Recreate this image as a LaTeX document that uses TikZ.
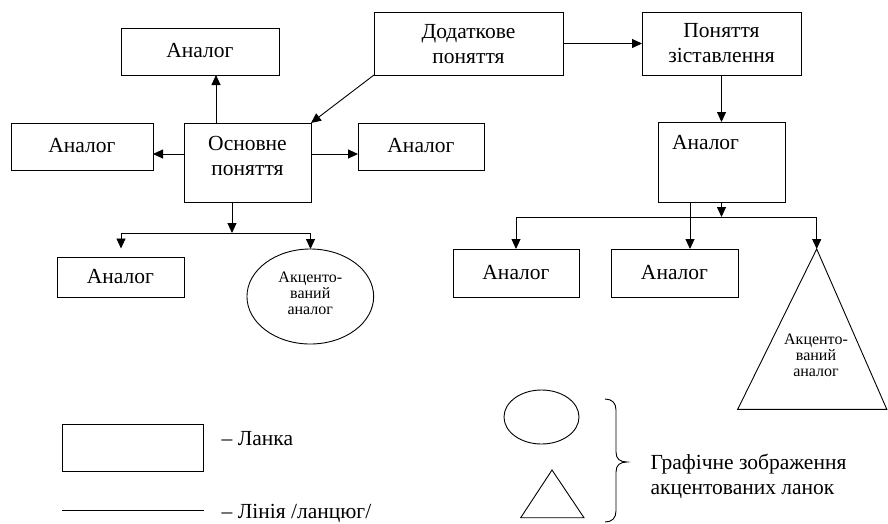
\documentclass[tikz,border=0pt]{standalone}
\usepackage{fontspec}
\setmainfont{Liberation Serif}
\usetikzlibrary{arrows.meta,shapes.geometric,calc}
\begin{document}
\begin{tikzpicture}[x=1pt,y=-1pt,
  every node/.style={inner sep=0pt, outer sep=0pt},
  box/.style={draw, line width=0.9pt, rectangle},
  ell/.style={draw, line width=0.9pt, ellipse},
  txt/.style={font=\fontsize{21.5}{25}\selectfont, align=center},
  small/.style={font=\fontsize{16}{16}\selectfont, align=center},
  arr/.style={line width=0.9pt, -{Triangle[length=10pt,width=9pt]}},
  ln/.style={line width=0.9pt}]
\useasboundingbox (0,0) rectangle (888,523);

% boxes
\node[box, minimum width=158, minimum height=47] (top) at (200,51.5) {};
\node[txt] (topT) at (200,50.5) {Аналог};
\node[box, minimum width=142, minimum height=47] (left) at (82,146.5) {};
\node[txt] (leftT) at (82,145.5) {Аналог};
\node[box, minimum width=127, minimum height=79] (osn) at (247.5,162.5) {};
\node[txt] (osnT) at (247.5,155.5) {Основне\\поняття};
\node[box, minimum width=126, minimum height=47] (right) at (421,146.5) {};
\node[txt] (rightT) at (421,145.5) {Аналог};
\node[box, minimum width=189, minimum height=63] (dod) at (468.5,43.5) {};
\node[txt] (dodT) at (468.5,44.5) {Додаткове\\поняття};
\node[box, minimum width=159, minimum height=63] (pz) at (721.5,43.5) {};
\node[txt] (pzT) at (721.5,43.5) {Поняття\\зіставлення};
\node[box, minimum width=127, minimum height=80] (tall) at (721.5,162) {};
\node[txt, anchor=west] (tallT) at (672,143) {Аналог};
\node[box, minimum width=127, minimum height=40] (bl) at (120.5,277) {};
\node[txt] (blT) at (120.5,276) {Аналог};
\node[ell, minimum width=126.7, minimum height=95] (el) at (310.3,296.5) {};
\node[small] (elT) at (310.3,293) {Акценто-\\ваний\\аналог};
\node[box, minimum width=126, minimum height=48] (b1) at (516,273) {};
\node[txt] (b1T) at (516,272) {Аналог};
\node[box, minimum width=127, minimum height=48] (b2) at (674.5,273) {};
\node[txt] (b2T) at (674.5,272) {Аналог};

% big triangle
\coordinate (triA) at (816.7,249);
\coordinate (triL) at (737.7,409.3);
\coordinate (triR) at (886.8,409.3);
\draw[ln, line join=miter] (triA) -- (triL) -- (triR) -- cycle;
\node[small] (triT) at (816,355.5) {Акценто-\\ваний\\аналог};

% helper coordinates
\coordinate (cU) at (216,0);
\coordinate (cH) at (0,154);
\coordinate (cJ) at (232,233);
\coordinate (jl) at (121,233);
\coordinate (jr) at (310.5,233);
\coordinate (jlEnd) at (121,248.5);
\coordinate (cJ2) at (721.5,217);
\coordinate (jr1) at (516,217);
\coordinate (jr3) at (816.7,217);
\coordinate (cV) at (690,0);

% connectors
\draw[arr] (osn.north -| cU) -- (top.south -| cU);
\draw[arr] (osn.west |- cH) -- (left.east |- cH);
\draw[arr] (osn.east |- cH) -- (right.west |- cH);
\draw[arr] (dod.south west) -- (osn.north east);
\draw[arr] (dod.east) -- (pz.west);
\draw[arr] (pz.south) -- (tall.north);

\draw[arr] (osn.south -| cJ) -- (cJ);
\draw[ln] (jl) -- (jr);
\draw[arr] (jl) -- (jlEnd);
\draw[arr] (jr) -- (jr |- el.north);

\draw[arr] (tall.south) -- (cJ2);
\draw[ln] (jr1) -- (jr3);
\draw[arr] (jr1) -- (b1.north);
\draw[arr] (tall.south -| cV) -- (b2.north -| cV);
\draw[arr] (jr3) -- (triA);

% legend
\node[box, minimum width=141, minimum height=47] (lrect) at (132.5,447.5) {};
\node[txt, anchor=base west] (lrectT) at (221.7,445) {– Ланка};
\coordinate (lineA) at (62,510);
\coordinate (lineB) at (204,510);
\draw[ln] (lineA) -- (lineB);
\node[txt, anchor=base west] (lineT) at (221.7,518) {– Лінія /ланцюг/};

\node[ell, minimum width=75, minimum height=54] (lell) at (541.5,417) {};
\coordinate (ltA) at (552,470);
\coordinate (ltL) at (520.7,517.7);
\coordinate (ltR) at (584,517.7);
\draw[ln, line join=miter] (ltA) -- (ltL) -- (ltR) -- cycle;

\draw[ln] (605,399) .. controls (612,399) and (616,403) .. (616,410) -- (616,452)
  .. controls (616,459) and (620,462) .. (627,462)
  .. controls (620,462) and (616,465) .. (616,472) -- (616,511)
  .. controls (616,518) and (612,522) .. (605,522);
\node[txt, align=left, anchor=west] (braceT) at (650.5,476) {Графічне зображення\\акцентованих ланок};
\end{tikzpicture}
\end{document}
